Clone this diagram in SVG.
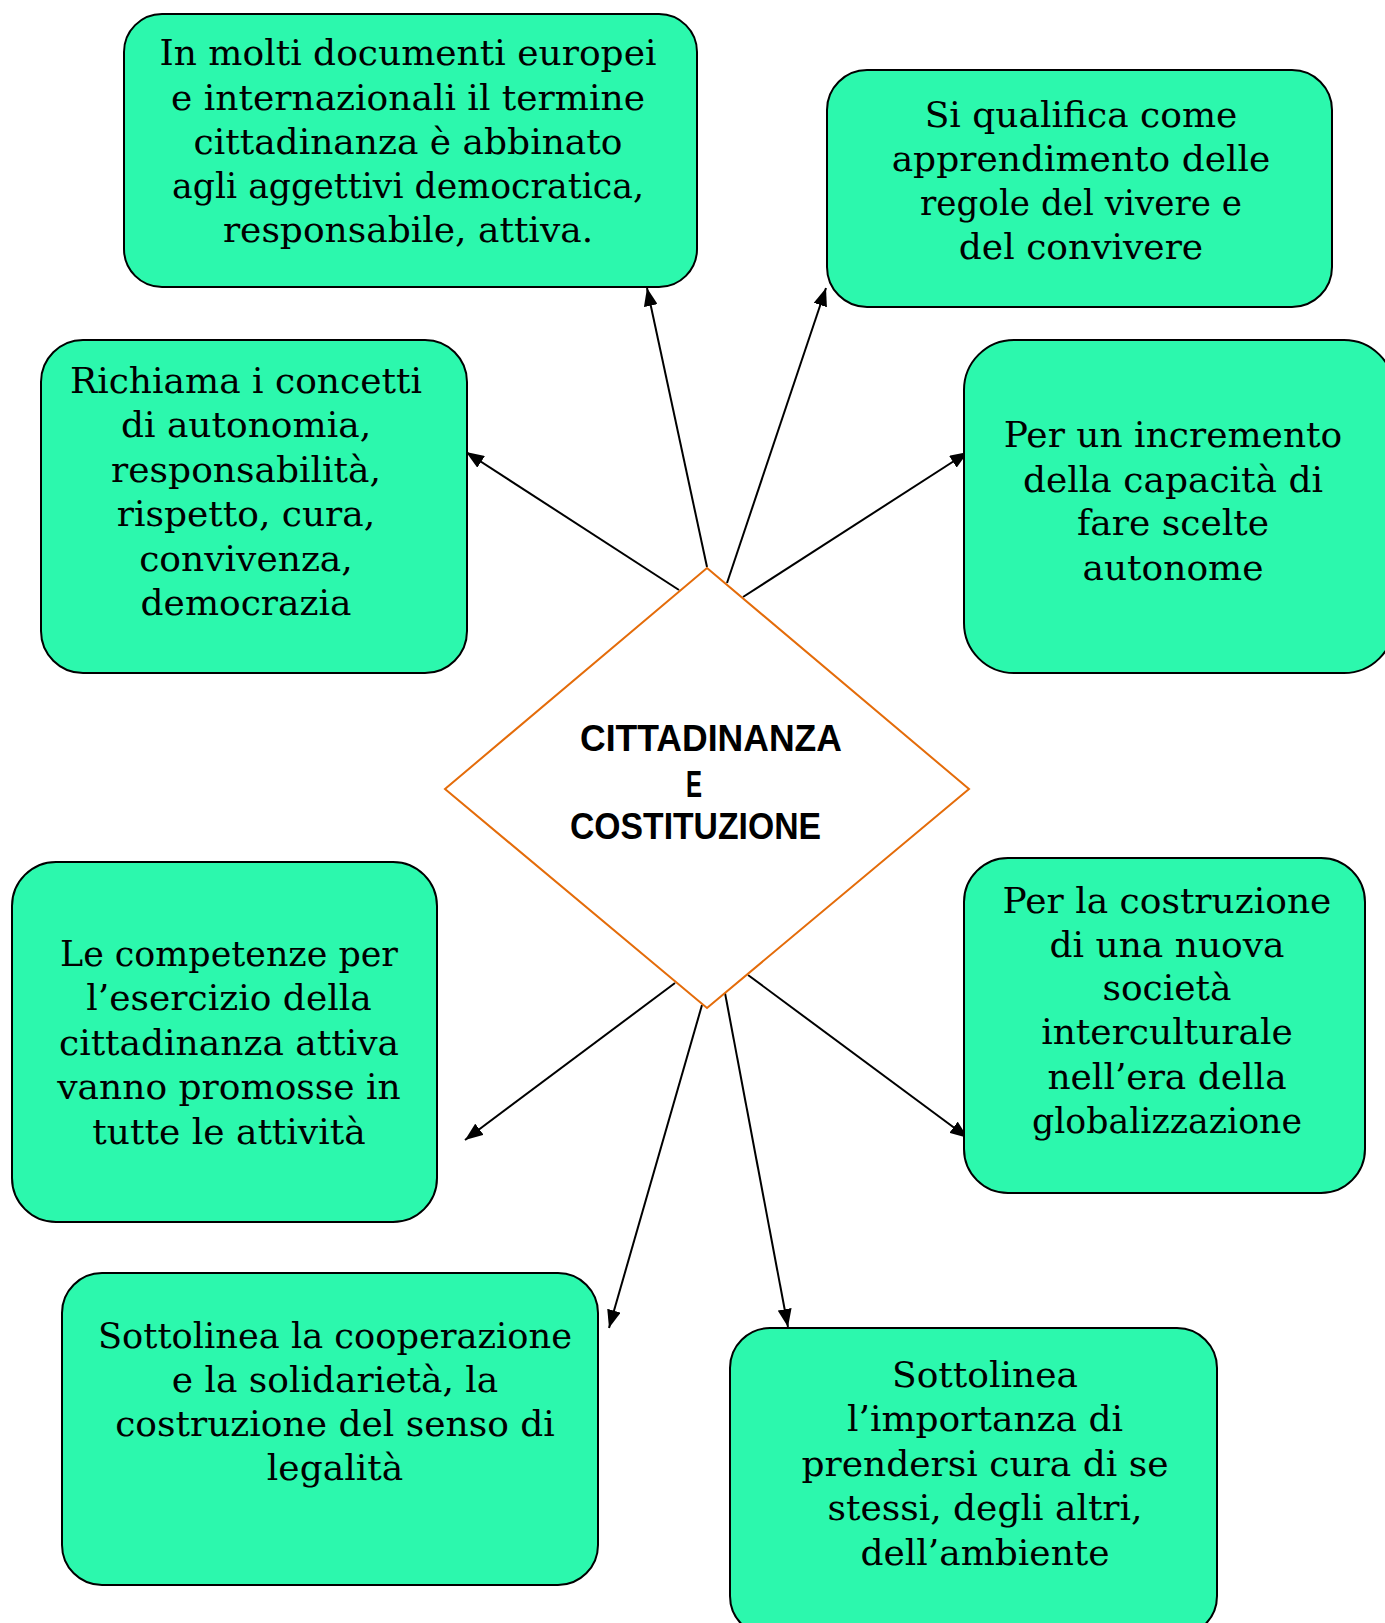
<svg xmlns="http://www.w3.org/2000/svg" width="1385" height="1623" viewBox="0 0 1385 1623">
<style>
.box{fill:#2CF8AD;stroke:#000;stroke-width:2}
.t{font-family:"DejaVu Serif","Liberation Serif",serif;font-size:36px;fill:#000;text-anchor:middle}
.c{font-family:"Liberation Sans",Arial,sans-serif;font-weight:bold;font-size:36px;fill:#000}
.con{stroke:#000;stroke-width:2;fill:none;marker-end:url(#arr)}
</style>
<defs>
<marker id="arr" viewBox="0 0 18 14" refX="18" refY="7" markerUnits="userSpaceOnUse" markerWidth="18" markerHeight="14" orient="auto">
<path d="M0,0 L18,7 L0,14 Z" fill="#000"/>
</marker>
</defs>
<rect width="1385" height="1623" fill="#fff"/>

<g id="connectors">
<line class="con" x1="707" y1="567" x2="647" y2="288"/>
<line class="con" x1="727" y1="583" x2="826" y2="288"/>
<line class="con" x1="679" y1="590" x2="466" y2="452"/>
<line class="con" x1="743" y1="597" x2="968" y2="452"/>
<line class="con" x1="675" y1="983" x2="465" y2="1140"/>
<line class="con" x1="748" y1="975" x2="968" y2="1138"/>
<line class="con" x1="702" y1="1005" x2="609" y2="1328"/>
<line class="con" x1="725" y1="993" x2="788" y2="1327"/>
</g>

<g id="center">
<polygon points="707,568 969,789 707,1008 445,789" fill="#fff" stroke="#E46C0A" stroke-width="2"/>
<text class="c" x="580" y="751" textLength="262" lengthAdjust="spacingAndGlyphs">CITTADINANZA</text>
<text class="c" x="686" y="797" textLength="16" lengthAdjust="spacingAndGlyphs">E</text>
<text class="c" x="570" y="839" textLength="251" lengthAdjust="spacingAndGlyphs">COSTITUZIONE</text>
</g>

<g id="nodeA">
<rect class="box" x="124" y="14" width="573" height="273" rx="38"/>
<text class="t"><tspan x="408" y="65">In molti documenti europei</tspan><tspan x="408" y="110">e internazionali il termine</tspan><tspan x="408" y="154">cittadinanza è abbinato</tspan><tspan x="408" y="198" textLength="472" lengthAdjust="spacingAndGlyphs">agli aggettivi democratica,</tspan><tspan x="408" y="242">responsabile, attiva.</tspan></text>
</g>

<g id="nodeB">
<rect class="box" x="827" y="70" width="505" height="237" rx="40"/>
<text class="t"><tspan x="1081" y="127">Si qualifica come</tspan><tspan x="1081" y="171">apprendimento delle</tspan><tspan x="1081" y="215" textLength="322" lengthAdjust="spacingAndGlyphs">regole del vivere e</tspan><tspan x="1081" y="259">del convivere</tspan></text>
</g>

<g id="nodeC">
<rect class="box" x="41" y="340" width="426" height="333" rx="42"/>
<text class="t"><tspan x="246" y="393">Richiama i concetti</tspan><tspan x="246" y="437">di autonomia,</tspan><tspan x="246" y="482">responsabilità,</tspan><tspan x="246" y="526">rispetto, cura,</tspan><tspan x="246" y="571">convivenza,</tspan><tspan x="246" y="615">democrazia</tspan></text>
</g>

<g id="nodeD">
<rect class="box" x="964" y="340" width="430" height="333" rx="50"/>
<text class="t"><tspan x="1173" y="447">Per un incremento</tspan><tspan x="1173" y="492">della capacità di</tspan><tspan x="1173" y="535">fare scelte</tspan><tspan x="1173" y="580">autonome</tspan></text>
</g>

<g id="nodeE">
<rect class="box" x="12" y="862" width="425" height="360" rx="44"/>
<text class="t"><tspan x="229" y="966" textLength="338" lengthAdjust="spacingAndGlyphs">Le competenze per</tspan><tspan x="229" y="1010">l’esercizio della</tspan><tspan x="229" y="1055">cittadinanza attiva</tspan><tspan x="229" y="1099">vanno promosse in</tspan><tspan x="229" y="1144">tutte le attività</tspan></text>
</g>

<g id="nodeF">
<rect class="box" x="964" y="858" width="401" height="335" rx="44"/>
<text class="t"><tspan x="1167" y="913">Per la costruzione</tspan><tspan x="1167" y="957">di una nuova</tspan><tspan x="1167" y="1000">società</tspan><tspan x="1167" y="1044">interculturale</tspan><tspan x="1167" y="1089">nell’era della</tspan><tspan x="1167" y="1133" textLength="270" lengthAdjust="spacingAndGlyphs">globalizzazione</tspan></text>
</g>

<g id="nodeG">
<rect class="box" x="62" y="1273" width="536" height="312" rx="40"/>
<text class="t"><tspan x="335" y="1348" textLength="474" lengthAdjust="spacingAndGlyphs">Sottolinea la cooperazione</tspan><tspan x="335" y="1392">e la solidarietà, la</tspan><tspan x="335" y="1436">costruzione del senso di</tspan><tspan x="335" y="1480">legalità</tspan></text>
</g>

<g id="nodeH">
<rect class="box" x="730" y="1328" width="487" height="308" rx="40"/>
<text class="t"><tspan x="985" y="1387">Sottolinea</tspan><tspan x="985" y="1431">l’importanza di</tspan><tspan x="985" y="1476">prendersi cura di se</tspan><tspan x="985" y="1520">stessi, degli altri,</tspan><tspan x="985" y="1565">dell’ambiente</tspan></text>
</g>
</svg>
